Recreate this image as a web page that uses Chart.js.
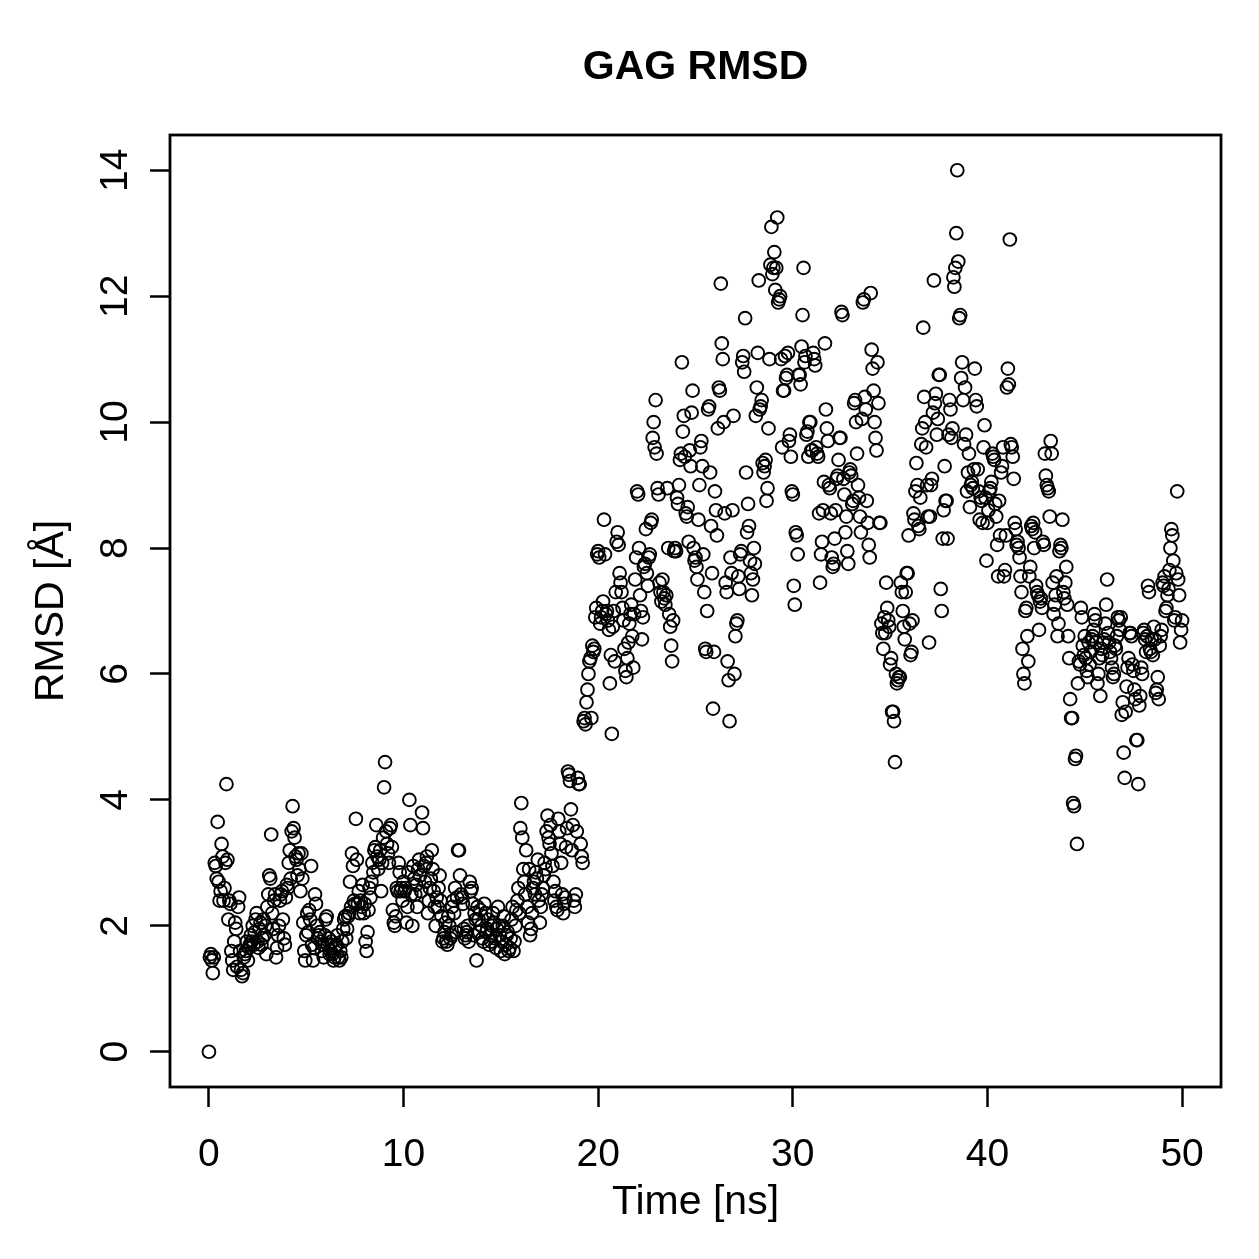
<!DOCTYPE html>
<html>
<head>
<meta charset="utf-8">
<script src="https://cdn.jsdelivr.net/npm/chart.js@4/dist/chart.umd.min.js"></script>
<style>
html,body{margin:0;padding:0;background:#fff;}
#wrap{width:1259px;height:1259px;}
</style>
</head>
<body>
<div id="wrap"><canvas id="c" width="1259" height="1259"></canvas></div>
<script>
// ---- data ----
const chartTitle = "GAG RMSD";
const xAxisTitle = "Time [ns]";
const yAxisTitle = "RMSD [Å]";
const xTicks = [0, 10, 20, 30, 40, 50];
const yTicks = [0, 2, 4, 6, 8, 10, 12, 14];
// RMSD samples, one row per nanosecond of simulation time
const rmsdByNs = [
[0,1.5,1.55,1.45,1.25,1.5,3.0,2.95,2.75,3.65,2.7,2.4,2.55,3.3,3.1,2.4,2.6,3.0,4.25,3.05],
[2.1,2.4,2.35,1.6,1.45,1.3,1.75,2.05,1.95,1.35,2.3,2.45,1.6,1.3,1.2,1.25,1.5,1.55,1.6,1.75],
[1.45,1.65,1.7,1.85,1.75,2.0,1.7,1.9,2.1,2.2,1.75,1.65,1.95,2.05,1.7,1.8,2.1,1.85,2.0,1.55],
[2.3,2.5,2.8,2.75,3.45,2.2,1.95,2.4,2.5,1.5,1.65,1.85,2.0,2.4,2.5,2.55,2.1,1.8,1.7,2.45],
[2.65,2.6,3.0,3.2,2.75,3.5,3.9,3.55,3.4,3.1,3.05,2.8,3.15,2.9,2.55,3.15,2.75,2.05,1.6,1.45],
[1.85,2.2,1.9,2.25,2.1,2.95,1.7,1.45,1.65,2.5,2.35,2.0,1.8,1.85,1.9,1.75,1.6,1.7,1.5,1.85],
[2.1,2.15,1.7,1.8,1.55,1.6,1.75,1.55,1.45,1.5,1.65,1.7,1.85,1.5,1.45,1.6,1.5,1.75,1.95,2.1],
[2.15,1.8,1.95,2.15,2.2,2.7,2.3,3.15,2.95,2.4,2.35,3.7,3.05,2.35,2.55,2.2,2.4,2.3,2.65,2.2],
[2.35,1.75,1.6,1.9,2.25,2.6,2.45,2.7,3.0,2.85,3.2,3.25,3.6,3.1,2.9,3.05,3.2,2.55,3.0,3.4],
[4.2,4.6,3.5,3.3,3.15,3.0,3.55,3.6,3.25,2.25,2.05,2.0,2.15,2.6,2.55,3.0,2.85,2.55,2.6,2.4],
[2.7,2.55,2.6,2.05,2.3,2.85,4.0,3.6,2.5,2.0,2.95,2.75,2.5,2.65,2.3,2.9,3.05,2.8,2.55,3.8],
[3.55,2.95,2.7,3.0,3.1,2.2,2.4,2.6,2.75,3.2,2.9,2.55,2.3,2.0,2.45,2.3,2.6,2.8,2.4,2.15],
[1.75,1.8,1.9,2.05,1.75,1.7,2.15,2.0,1.8,1.85,2.3,2.4,2.2,2.6,1.9,2.45,3.2,3.2,2.8,2.5],
[2.45,2.35,1.95,1.8,1.85,1.9,2.0,1.75,2.7,2.55,2.6,2.35,1.85,2.2,2.1,1.45,2.3,2.1,1.9,2.25],
[2.0,1.8,1.75,2.35,2.2,1.9,1.95,2.1,1.7,1.85,1.75,2.0,2.2,2.05,1.8,1.65,1.95,2.3,2.0,1.85],
[1.6,1.75,2.0,2.15,1.55,1.7,1.85,1.9,1.6,1.65,1.8,2.1,2.3,1.6,1.75,2.0,2.25,2.4,2.6,2.2],
[3.55,3.95,3.4,2.9,2.7,2.5,3.2,2.3,2.05,2.9,1.85,1.95,2.2,2.6,2.7,2.5,2.85,2.75,3.05,2.4],
[2.05,2.3,2.5,2.6,2.8,3.0,2.9,3.5,3.75,3.4,3.3,3.6,3.15,2.95,2.7,2.4,2.55,2.3,2.25,3.7],
[3.5,3.3,3.0,2.5,2.2,2.35,2.45,3.25,3.55,4.45,4.4,4.3,3.85,3.2,3.6,2.4,2.3,2.5,3.5,4.35],
[4.25,4.25,3.3,3.1,3.0,5.25,5.3,5.2,5.55,5.75,6.0,6.2,6.25,5.3,6.45,6.35,6.4,6.9,7.05,7.9],
[7.95,7.85,6.8,6.9,7.0,7.15,8.45,7.9,6.95,7.0,6.85,6.7,5.85,6.3,5.05,6.75,7.0,6.2,7.3,8.1],
[8.25,8.05,7.6,7.45,7.3,7.05,6.85,6.4,6.05,5.95,6.25,6.5,6.8,6.95,7.1,6.6,6.1,6.95,7.5,7.85],
[8.9,8.85,8.0,7.25,7.0,6.55,6.9,7.7,7.75,8.3,7.6,7.4,7.85,7.9,8.4,8.45,9.75,10.0,9.6,10.35],
[9.5,8.95,8.85,7.45,7.3,7.15,7.5,7.3,7.2,7.1,7.25,8.95,8.0,6.95,6.75,6.45,6.2,6.85,7.95,8.0],
[7.95,8.8,8.7,9.0,9.4,9.5,10.95,9.85,10.1,9.45,8.55,8.5,8.65,8.1,9.55,9.3,10.15,10.5,8.0,7.8],
[7.85,7.7,7.5,8.45,9.0,9.6,9.7,9.3,7.9,7.3,6.4,6.35,7.0,10.2,10.25,9.2,8.35,7.6,5.45,6.35],
[8.9,8.6,8.2,9.9,10.55,10.5,12.2,11.25,11.0,10.0,8.55,7.45,7.3,6.2,5.9,5.25,7.85,7.6,8.6,10.1],
[6.0,6.6,6.8,6.85,7.55,7.35,7.9,7.95,10.95,11.05,10.8,11.65,9.2,8.25,8.7,8.35,7.8,7.6,7.25,7.5],
[8.0,7.75,10.1,10.55,11.1,12.25,10.2,10.25,10.35,9.35,9.2,9.3,9.4,8.75,8.95,9.9,11.0,12.5,13.1,12.35],
[12.45,12.7,12.1,12.45,13.25,11.9,11.95,12.0,11.0,9.6,10.5,10.5,11.05,10.7,10.75,11.1,9.7,9.8,9.45,8.9],
[8.85,7.4,7.1,8.25,8.2,7.9,10.75,10.75,10.6,11.2,11.7,12.45,10.95,11.05,9.8,9.85,9.45,10.0,10.0,9.55],
[9.55,11.1,11.0,10.9,9.6,9.5,9.45,8.55,7.45,7.9,8.1,8.6,9.05,11.25,10.2,9.9,9.7,9.0,8.95,8.55],
[7.85,7.7,7.75,8.15,8.6,9.1,9.15,9.4,9.75,9.75,11.75,11.7,9.1,8.85,8.25,8.5,7.95,7.75,9.2,9.25],
[9.15,8.7,8.75,10.3,10.35,10.0,9.5,9.0,8.8,8.5,8.25,10.05,11.9,11.95,10.4,10.2,8.75,8.4,8.05,7.85],
[12.05,11.15,10.85,10.5,10.0,9.75,9.55,10.95,10.3,8.4,8.4,6.8,6.65,6.4,6.9,6.65,7.45,7.05,6.85,6.75],
[6.15,6.25,5.4,5.4,5.25,4.6,6.0,5.85,5.9,5.95,5.95,7.45,7.3,7.0,6.75,6.55,7.3,7.6,7.6,8.2],
[6.8,6.3,6.35,6.85,8.55,8.45,8.9,9.35,9.0,8.35,8.3,8.8,9.65,9.9,11.5,10.4,10.0,9.6,9.0,8.5],
[6.5,8.5,9.0,9.1,10.15,12.25,10.3,10.45,9.8,10.05,10.75,10.75,7.35,7.0,8.15,8.6,9.3,8.75,8.75,8.15],
[9.8,10.35,10.2,9.75,9.9,12.3,12.15,12.45,13.0,14.0,12.55,11.65,11.7,10.7,10.95,10.35,9.65,10.55,9.8,8.9],
[9.2,9.5,8.65,9.0,9.05,8.95,9.25,10.85,10.35,10.25,9.25,8.9,8.45,8.8,8.75,8.4,9.6,9.95,8.8,7.8],
[8.4,8.6,8.9,8.95,9.05,9.5,9.45,9.4,8.7,8.5,8.05,7.55,8.75,8.2,9.2,9.3,9.6,7.55,7.65,8.2],
[10.55,10.85,10.6,12.9,9.65,9.6,9.45,9.1,8.4,8.3,8.05,8.1,8.0,7.85,7.55,7.3,6.4,6.0,5.85,7.0],
[7.05,6.6,6.2,7.55,7.7,8.35,8.3,8.4,8.0,8.25,7.4,7.3,7.25,6.7,7.15,7.2,7.05,8.1,8.05,9.5],
[9.15,9.0,8.95,8.9,8.5,9.7,9.5,7.45,6.95,7.1,7.25,7.55,6.6,6.8,7.95,8.05,8.0,8.45,7.3,7.2],
[7.45,7.7,7.1,6.6,6.25,5.6,5.3,5.3,3.95,3.9,4.65,4.7,3.3,5.85,6.2,6.15,7.05,6.9,6.45,6.3],
[6.6,6.25,6.05,5.95,6.5,6.15,6.35,6.55,6.6,6.7,6.95,6.85,6.5,5.85,6.0,6.25,5.65,6.4,6.3,6.5],
[6.55,6.8,7.1,7.5,6.65,6.5,6.35,6.25,6.1,5.95,6.0,6.45,6.4,6.6,6.9,6.85,6.7,6.9,5.35,5.55],
[4.75,4.35,5.4,5.8,6.1,6.25,6.65,6.65,6.6,6.15,6.05,5.75,5.6,4.95,4.95,4.25,5.5,5.65,6.1,6.0],
[6.65,6.7,6.55,6.35,6.6,7.4,7.3,6.4,6.35,6.55,6.3,6.75,6.55,5.7,5.75,5.95,5.6,6.45,6.6,6.7],
[7.45,7.4,7.55,7.0,7.05,7.25,7.35,7.65,8.0,8.3,8.2,7.8,6.85,6.9,7.6,8.9,7.5,7.25,6.5,6.7],
[6.85]
];

// build scatter points: each row covers one ns, samples evenly spread in it
const points = [];
rmsdByNs.forEach((row, ns) => {
  row.forEach((v, j) => points.push({x: ns + j / 20, y: v}));
});

const FONT = '"Liberation Sans", Arial, Helvetica, sans-serif';

const rDecor = {
  id: 'rDecor',
  afterDraw(chart) {
    const ctx = chart.ctx;
    const a = chart.chartArea;
    const xs = chart.scales.x, ys = chart.scales.y;
    ctx.save();
    ctx.strokeStyle = '#000';
    ctx.lineWidth = 2.8;
    ctx.strokeRect(a.left, a.top, a.right - a.left, a.bottom - a.top);
    ctx.fillStyle = '#000';
    ctx.font = '39px ' + FONT;
    ctx.textAlign = 'center';
    ctx.textBaseline = 'middle';
    xTicks.forEach(v => ctx.fillText(String(v), xs.getPixelForValue(v), 1155));
    yTicks.forEach(v => {
      ctx.save();
      ctx.translate(116, ys.getPixelForValue(v));
      ctx.rotate(-Math.PI / 2);
      ctx.fillText(String(v), 0, 0);
      ctx.restore();
    });
    ctx.font = '41px ' + FONT;
    ctx.fillText(xAxisTitle, (a.left + a.right) / 2, 1203);
    ctx.save();
    ctx.translate(52, (a.top + a.bottom) / 2);
    ctx.rotate(-Math.PI / 2);
    ctx.fillText(yAxisTitle, 0, 0);
    ctx.restore();
    ctx.font = 'bold 41px ' + FONT;
    ctx.fillText(chartTitle, (a.left + a.right) / 2, 68);
    ctx.restore();
  }
};

new Chart(document.getElementById('c'), {
  type: 'scatter',
  data: {
    datasets: [{
      data: points,
      pointStyle: 'circle',
      pointRadius: 6.4,
      pointHoverRadius: 6.4,
      pointBorderWidth: 1.9,
      pointBorderColor: '#000',
      pointBackgroundColor: 'rgba(0,0,0,0)',
      showLine: false
    }]
  },
  options: {
    responsive: false,
    animation: false,
    devicePixelRatio: 1,
    layout: { padding: { top: 135, right: 38, left: 0, bottom: 0 } },
    plugins: { legend: { display: false }, title: { display: false }, tooltip: { enabled: false } },
    scales: {
      x: {
        type: 'linear', position: 'bottom', min: -2, max: 52,
        afterBuildTicks: s => { s.ticks = xTicks.map(v => ({ value: v })); },
        afterFit: s => { s.height = 172; },
        grid: { drawOnChartArea: false, drawTicks: true, tickLength: 20, tickWidth: 2.5, tickColor: '#000' },
        border: { display: false },
        ticks: { display: false }
      },
      y: {
        type: 'linear', position: 'left', min: -0.56, max: 14.56,
        afterBuildTicks: s => { s.ticks = yTicks.map(v => ({ value: v })); },
        afterFit: s => { s.width = 170; },
        grid: { drawOnChartArea: false, drawTicks: true, tickLength: 20, tickWidth: 2.5, tickColor: '#000' },
        border: { display: false },
        ticks: { display: false }
      }
    }
  },
  plugins: [rDecor]
});
</script>
</body>
</html>
